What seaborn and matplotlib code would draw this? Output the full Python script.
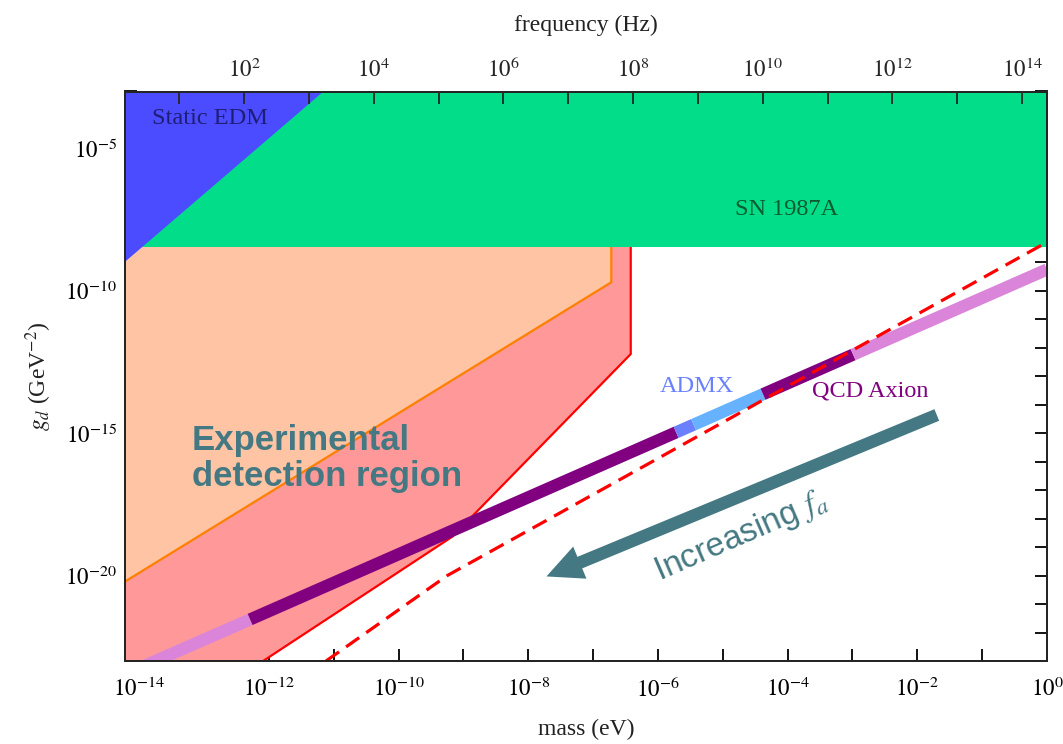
import numpy as np
import pandas as pd
import matplotlib
matplotlib.use("Agg")
import matplotlib.pyplot as plt
import seaborn as sns
from matplotlib.ticker import FixedLocator, NullFormatter, FuncFormatter

# ---------------- data ----------------
M_MIN, M_MAX = 10**-14.22, 10**0.0          # mass axis (eV)
G_MIN, G_MAX = 1e-23, 1e-3                  # coupling axis (GeV^-2)
H_EV_S = 4.135667e-15                       # eV*s, mass -> frequency

sn_g_floor = 10**-8.45                      # SN 1987A lower edge

edm_mass = [10**-14.22, 10**-11.16]         # static EDM boundary
edm_g = [10**-8.98, 1e-3]

orange_mass = [10**-14.22, 10**-6.72, 10**-6.72]
orange_g = [10**-20.21, 10**-9.70, 1e-3]

red_mass = [10**-12.09, 10**-9.17, 10**-6.42, 10**-6.42]
red_g = [1e-23, 10**-18.63, 10**-12.22, 1e-3]

dashed_mass = [10**-11.12, 10**-9.25, 10**0.0]
dashed_g = [1e-23, 10**-20.00, 10**-8.29]

qcd_mass = [10**-14.22, 10**-12.29, 10**-5.72, 10**-5.45, 10**-4.38, 10**-2.99, 10**0.0]
qcd_g = [10**-23.47, 10**-21.54, 10**-14.97, 10**-14.70, 10**-13.63, 10**-12.24, 10**-9.25]
qcd_colors = ["#da84da", "#800080", "#6a80ff", "#66b2ff", "#800080", "#da84da"]

y_major = [1e-20, 1e-15, 1e-10, 1e-5]
x_major = [10.0**k for k in range(-14, 1, 2)]
f_major = [10.0**k for k in range(2, 15, 2)]

arrow_tail = (10**-1.70, 10**-14.36)
arrow_head = (10**-7.72, 10**-20.03)

# ---------------- style ----------------
sns.set_theme(style="ticks")
plt.rcParams["font.family"] = ["Liberation Serif", "DejaVu Serif"]
plt.rcParams["mathtext.fontset"] = "stix"

TEAL = "#447882"

fig = plt.figure(figsize=(10.63, 7.44), dpi=100)
ax = fig.add_axes([125/1063, 1 - 661/744, (1047-125)/1063, (661-91.5)/744])
ax.set_xscale("log")
ax.set_yscale("log")
ax.set_xlim(M_MIN, M_MAX)
ax.set_ylim(G_MIN, G_MAX)

# regions
ax.fill([M_MIN] + red_mass + [M_MIN], [G_MIN] + red_g + [G_MAX],
        color="#ff9999", lw=0, zorder=1)
ax.fill([M_MIN] + orange_mass + [M_MIN], [orange_g[0]] + orange_g + [G_MAX],
        color="#ffc4a4", lw=0, zorder=1.1)
ax.plot(red_mass, red_g, color="#ff0000", lw=1.6, zorder=1.5)
ax.plot(orange_mass, orange_g, color="#ff8000", lw=1.6, zorder=1.6)
ax.fill_between([M_MIN, M_MAX], sn_g_floor, G_MAX, color="#02dd89", lw=0, zorder=2)
ax.fill([edm_mass[0], edm_mass[1], M_MIN], [edm_g[0], edm_g[1], G_MAX],
        color="#4b4bff", lw=0, zorder=2.1)

# QCD axion band
for i, c in enumerate(qcd_colors):
    seg = pd.DataFrame({"m": qcd_mass[i:i+2], "g": qcd_g[i:i+2]})
    sns.lineplot(data=seg, x="m", y="g", ax=ax, color=c, linewidth=8.8,
                 sort=False, estimator=None, zorder=3, solid_capstyle="butt")

# dashed projection
ax.plot(dashed_mass, dashed_g, color="#ff0000", lw=2.3,
        linestyle=(0, (5, 2.7)), zorder=3.5)

# arrow
ax.annotate("", xy=arrow_head, xytext=arrow_tail,
            arrowprops=dict(arrowstyle="simple,head_length=2.6,head_width=2.5,tail_width=0.9",
                            mutation_scale=10, lw=0, color=TEAL,
                            shrinkA=0, shrinkB=0), zorder=4)

# texts
ax.text(10**-13.80, 10**-3.94, "Static EDM", fontsize=17.5, color="#1e1e78",
        ha="left", va="center", zorder=5)
ax.text(10**-4.01, 10**-7.15, "SN 1987A", fontsize=17.5, color="#0c5c30",
        ha="center", va="center", zorder=5)
ax.text(10**-5.40, 10**-13.37, "ADMX", fontsize=17.5, color="#6a80ff",
        ha="center", va="center", zorder=5)
ax.text(10**-3.63, 10**-13.53, "QCD Axion", fontsize=17.5, color="#800080",
        ha="left", va="center", zorder=5)
ax.text(10**-13.19, 10**-15.90, "Experimental\ndetection region",
        fontsize=25, color=TEAL, fontweight="bold", family="Liberation Sans",
        ha="left", va="center", linespacing=1.12, zorder=5)
ax.text(10**-4.72, 10**-18.62, r"Increasing $f_a$", fontsize=24,
        color=TEAL, family="Liberation Sans", rotation=23.5,
        rotation_mode="anchor", ha="center", va="center", zorder=5)

# axes ticks / labels
for s in ax.spines.values():
    s.set_linewidth(1.4)
    s.set_color("black")
    s.set_zorder(6)

ax.yaxis.set_major_locator(FixedLocator(y_major))
ax.yaxis.set_minor_locator(FixedLocator([10.0**k for k in range(-23, -2)]))
ax.yaxis.set_minor_formatter(NullFormatter())
ax.xaxis.set_major_locator(FixedLocator(x_major))
ax.xaxis.set_minor_locator(FixedLocator([10.0**k for k in range(-14, 1)]))
ax.xaxis.set_minor_formatter(NullFormatter())
fmt = FuncFormatter(lambda v, p: r"$10^{%d}$" % int(round(np.log10(v))))
ax.xaxis.set_major_formatter(fmt)
ax.yaxis.set_major_formatter(fmt)
ax.tick_params(which="both", direction="in", length=8.5, width=1.3,
               labelsize=16.5, color="black", labelcolor="black")
ax.tick_params(axis="x", which="both", top=False, bottom=True, pad=12)
ax.tick_params(axis="y", which="both", left=True, right=True, pad=6)

ax.set_xlabel("mass (eV)", fontsize=17, labelpad=12, color="#222222")
ax.set_ylabel(r"$g_d$ (GeV$^{-2}$)", fontsize=17, labelpad=8, color="#222222")

# top frequency axis
ax2 = ax.twiny()
ax2.set_xscale("log")
ax2.set_xlim(M_MIN / H_EV_S, M_MAX / H_EV_S)
ax2.xaxis.set_major_locator(FixedLocator(f_major))
ax2.xaxis.set_minor_locator(FixedLocator([10.0**k for k in range(1, 15)]))
ax2.xaxis.set_minor_formatter(NullFormatter())
ax2.xaxis.set_major_formatter(fmt)
ax2.tick_params(which="both", direction="in", length=8.5, width=1.3,
                labelsize=16.5, pad=7)
ax2.set_xlabel("frequency (Hz)", fontsize=17, labelpad=19, color="#222222")
for s in ax2.spines.values():
    s.set_linewidth(1.4)

fig.savefig("out.png", dpi=100)
